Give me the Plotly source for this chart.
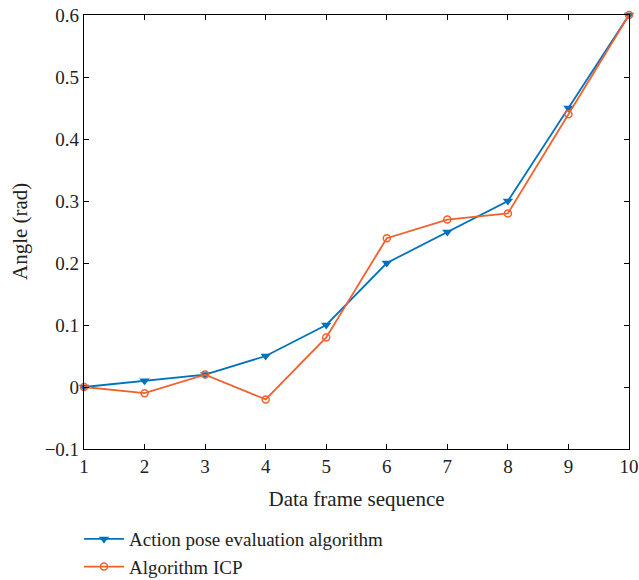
import plotly.graph_objects as go

frames = [1, 2, 3, 4, 5, 6, 7, 8, 9, 10]
action_pose = [0.0, 0.01, 0.02, 0.05, 0.10, 0.20, 0.25, 0.30, 0.45, 0.60]
icp = [0.0, -0.01, 0.02, -0.02, 0.08, 0.24, 0.27, 0.28, 0.44, 0.60]
x_ticks = [1, 2, 3, 4, 5, 6, 7, 8, 9, 10]
y_ticks = [-0.1, 0, 0.1, 0.2, 0.3, 0.4, 0.5, 0.6]
y_tick_labels = ["\u22120.1", "0", "0.1", "0.2", "0.3", "0.4", "0.5", "0.6"]
x_title = "Data frame sequence"
y_title = "Angle (rad)"

BLUE = "#0072BD"
ORANGE = "#F0622D"
FONT = "Liberation Serif"
TXT = "#222"

fig = go.Figure()
fig.add_trace(go.Scatter(
    x=frames, y=action_pose, mode="lines+markers",
    name="Action pose evaluation algorithm",
    line=dict(color=BLUE, width=1.8),
    marker=dict(symbol="triangle-down", size=9, color=BLUE),
    cliponaxis=False,
))
fig.add_trace(go.Scatter(
    x=frames, y=icp, mode="lines+markers",
    name="Algorithm ICP",
    line=dict(color=ORANGE, width=1.8),
    marker=dict(symbol="circle-open", size=7, color=ORANGE, line=dict(width=1.5)),
    cliponaxis=False,
))

axis_common = dict(
    showline=True, linecolor="black", linewidth=1.2, mirror="ticks",
    ticks="inside", ticklen=5, tickcolor="black", tickwidth=1,
    showgrid=False, zeroline=False, ticklabeloverflow="allow",
    tickfont=dict(family=FONT, size=19, color=TXT),
)

fig.update_layout(
    width=639, height=580,
    margin=dict(l=84, r=10, t=15, b=131, autoexpand=False),
    plot_bgcolor="white", paper_bgcolor="white",
    font=dict(family=FONT, size=21, color=TXT),
    xaxis=dict(range=[1, 10], tickvals=x_ticks,
               title=dict(text=x_title, font=dict(family=FONT, size=21, color=TXT), standoff=15),
               **axis_common),
    yaxis=dict(range=[-0.1, 0.6], tickvals=y_ticks, ticktext=y_tick_labels,
               **axis_common),
    legend=dict(xref="container", yref="container", x=0.1236, xanchor="left",
                y=0.1034, yanchor="top",
                font=dict(family=FONT, size=19, color=TXT),
                bgcolor="rgba(0,0,0,0)", tracegroupgap=0, itemwidth=40),
    showlegend=True,
    annotations=[dict(text=y_title, textangle=-90, xref="paper", yref="paper",
                      x=-0.1174, y=0.5, xanchor="center", yanchor="middle",
                      showarrow=False, font=dict(family=FONT, size=21, color=TXT))],
)

fig.write_html("out.html", config={"displayModeBar": False},
               post_script="document.body.style.margin='0';")
